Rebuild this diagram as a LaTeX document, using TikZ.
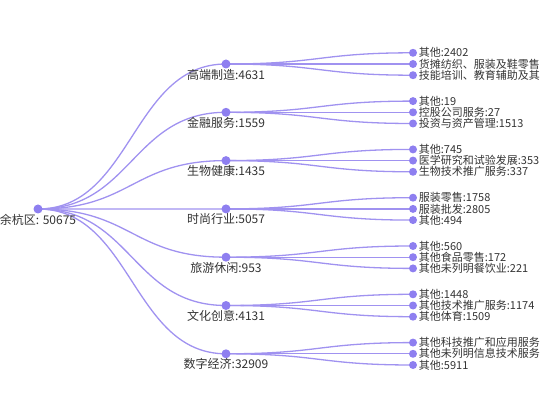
\documentclass[tikz,border=0pt]{standalone}
\usepackage{fontspec}
\setmainfont{Noto Sans CJK SC}
\usetikzlibrary{backgrounds}
\definecolor{treeline}{RGB}{160,146,240}
\definecolor{treedot}{RGB}{142,127,240}
\definecolor{labeltext}{RGB}{51,51,51}

\begin{document}
\begin{tikzpicture}[x=1pt, y=-1pt, font=\fontsize{12}{13}\selectfont, text=labeltext,
    dot/.style={circle, fill=treedot, inner sep=0pt, minimum size=9pt},
    leafdot/.style={circle, fill=treedot, inner sep=0pt, minimum size=8pt},
    branch/.style={draw=treeline, line width=1.3pt},
    catlabel/.style={inner sep=1pt, label distance=-1pt},
    leaflabel/.style={inner sep=1.5pt, label distance=0pt, font=\fontsize{11}{11}\selectfont}]
  \useasboundingbox (0,0) rectangle (550,420);

  % root of the tree
  \node[dot, label={[catlabel]below:{余杭区: 50675}}] (root) at (38,209) {};

  % sectors and their three largest sub-branches
  \foreach \grp/\txt/\la/\lb/\lc [count=\i from 0] in {
      hi/高端制造:4631/其他:2402/货摊纺织、服装及鞋零售/技能培训、教育辅助及其,
      fin/金融服务:1559/其他:19/控股公司服务:27/投资与资产管理:1513,
      bio/生物健康:1435/其他:745/医学研究和试验发展:353/生物技术推广服务:337,
      fash/时尚行业:5057/服装零售:1758/服装批发:2805/其他:494,
      tour/旅游休闲:953/其他:560/其他食品零售:172/其他未列明餐饮业:221,
      cult/文化创意:4131/其他:1448/其他技术推广服务:1174/其他体育:1509,
      dig/数字经济:32909/其他科技推广和应用服务/其他未列明信息技术服务/其他:5911}
  {
    \node[dot, label={[catlabel]below:{\txt}}] (\grp) at (226,{64+48.3*\i}) {};
    \begin{scope}[on background layer]
      \draw[branch] (root.center) .. controls +(94,0) and +(-94,0) .. (\grp.center);
    \end{scope}
    \foreach \leaf [count=\j] in {\la,\lb,\lc} {
      \node[leafdot, label={[leaflabel]right:{\leaf}}] (\grp\j) at (413,{64+48.3*\i+11.2*(\j-2)}) {};
      \begin{scope}[on background layer]
        \draw[branch] (\grp.center) .. controls +(94,0) and +(-94,0) .. (\grp\j.center);
      \end{scope}
    }
  }
\end{tikzpicture}
\end{document}
